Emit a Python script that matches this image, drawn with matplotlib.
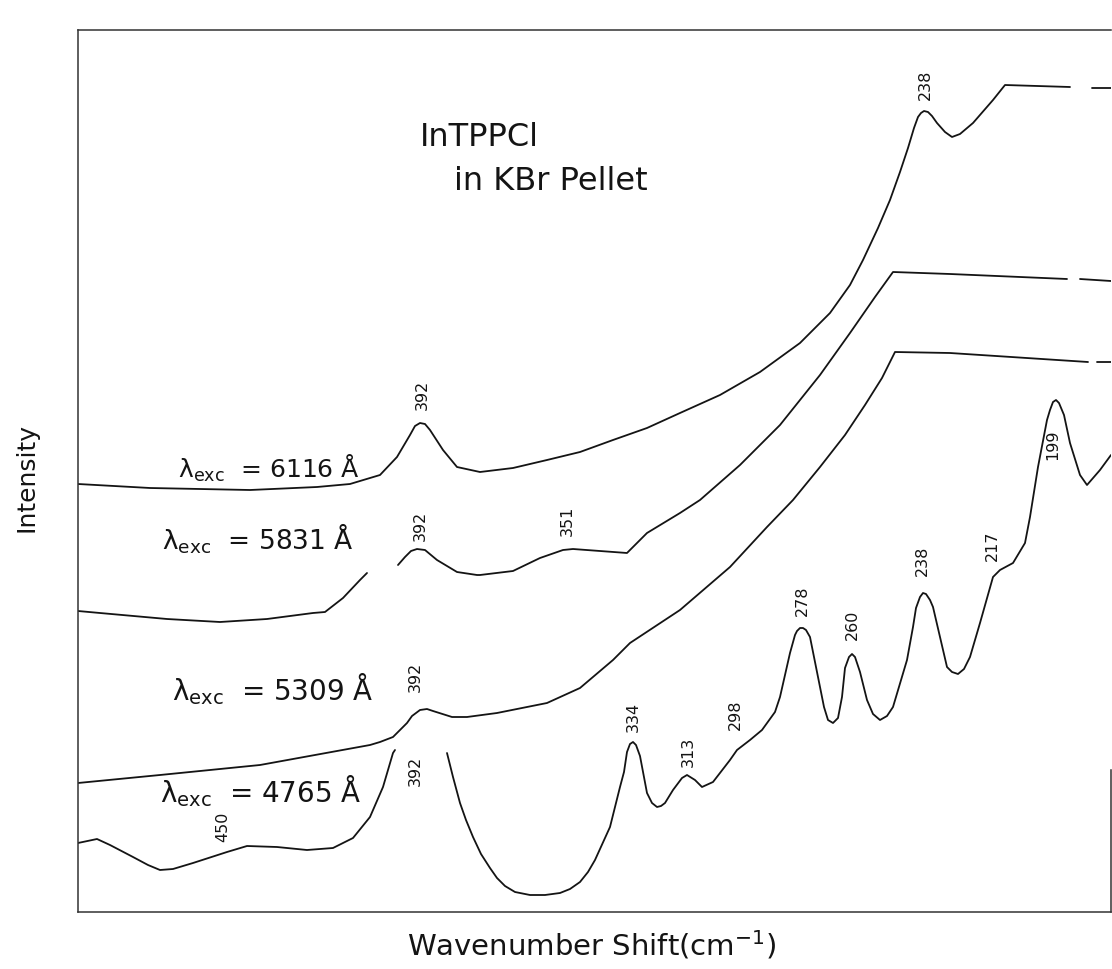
import numpy as np
import matplotlib
matplotlib.use("Agg")
import matplotlib.pyplot as plt

# Raman traces of InTPPCl in KBr.
# x = position along the recorder chart, y = intensity (arb. units); NaN = pen gap
nan = np.nan

exc6116 = np.array([
    [0, 428], [72, 424], [172, 422], [239, 425], [272, 428], [302, 437],
    [319, 455], [332, 477], [337, 486], [342, 489], [347, 488], [352, 482],
    [365, 462], [379, 445], [402, 440], [435, 444], [469, 452], [502, 460],
    [535, 472], [569, 484], [602, 499], [642, 517], [682, 540], [722, 569],
    [752, 599], [772, 627], [785, 652], [800, 684], [812, 712], [822, 740],
    [830, 764], [836, 784], [840, 795], [843, 799], [846, 801], [850, 800],
    [854, 796], [859, 789], [867, 780], [874, 775], [882, 778], [895, 789],
    [915, 812], [927, 827], [992, 825], [nan, nan], [1014, 824], [1033, 824]])

exc5831 = np.array([
    [0, 301], [22, 299], [89, 293], [142, 290], [189, 293], [235, 299],
    [247, 300], [265, 314], [282, 332], [289, 339], [nan, nan],
    [320, 347], [327, 355], [333, 361], [339, 363], [347, 362], [359, 352],
    [379, 340], [399, 337], [402, 337], [435, 341], [462, 354], [485, 362],
    [495, 363], [522, 361], [549, 359], [569, 379], [602, 399], [622, 412],
    [662, 447], [702, 487], [742, 537], [772, 579], [797, 615], [815, 640],
    [872, 638], [989, 633], [nan, nan], [1002, 633], [1033, 631]])

exc5309 = np.array([
    [0, 129], [82, 137], [182, 147], [292, 167], [302, 170], [315, 175],
    [329, 189], [334, 196], [342, 202], [349, 203], [355, 201], [374, 195],
    [389, 195], [419, 199], [469, 209], [502, 224], [535, 252], [552, 269],
    [602, 302], [652, 345], [689, 385], [715, 412], [742, 445], [767, 477],
    [787, 507], [804, 534], [817, 560], [872, 559], [1010, 550], [nan, nan],
    [1019, 550], [1033, 550]])

exc4765 = np.array([
    [0, 69], [19, 73], [32, 67], [55, 55], [70, 47], [82, 42], [95, 43],
    [115, 49], [149, 60], [169, 66], [199, 65], [229, 62], [255, 64],
    [275, 74], [292, 95], [305, 125], [315, 159], [317, 162], [nan, nan],
    [369, 159], [375, 135], [382, 109], [388, 92], [395, 75], [403, 58],
    [412, 44], [419, 34], [427, 26], [437, 20], [452, 17], [467, 17],
    [482, 19], [492, 23], [502, 30], [510, 40], [517, 52], [532, 85],
    [542, 125], [546, 140], [549, 160], [552, 168], [555, 170], [558, 167],
    [562, 156], [569, 119], [574, 109], [579, 105], [583, 106], [587, 109],
    [595, 122], [604, 134], [609, 137], [617, 132], [624, 125], [635, 130],
    [652, 152], [659, 162], [672, 172], [684, 182], [697, 200], [702, 215],
    [712, 259], [717, 277], [719, 281], [722, 284], [725, 284], [728, 282],
    [732, 275], [742, 225], [746, 205], [750, 192], [755, 189], [760, 194],
    [764, 215], [767, 244], [771, 255], [774, 258], [777, 255], [782, 240],
    [789, 212], [795, 198], [802, 192], [809, 196], [815, 205], [829, 252],
    [835, 285], [838, 304], [842, 315], [845, 319], [848, 318], [852, 312],
    [855, 305], [869, 245], [874, 240], [880, 238], [886, 243], [892, 255],
    [902, 289], [915, 335], [922, 342], [935, 349], [947, 369], [952, 395],
    [960, 445], [969, 492], [972, 502], [975, 510], [978, 512], [981, 509],
    [986, 497], [992, 469], [1002, 437], [1009, 427], [1022, 442], [1033, 457]])

# peak labels (cm-1) and where they sit on the chart
peak_names = ["392", "238",
              "392", "351",
              "392",
              "450", "392", "334", "313", "298", "278", "260", "238", "217", "199"]
peak_pos = [(344, 517), (847, 827),
            (342, 386), (489, 391),
            (337, 235),
            (145, 85), (337, 141), (555, 195), (610, 160), (657, 197),
            (724, 311), (774, 287), (844, 351), (914, 366), (975, 467)]

# excitation wavelengths (Angstrom) and label anchors
exc_lines = ["6116", "5831", "5309", "4765"]
exc_label_pos = [(100, 434, 18), (84, 362, 19), (94, 212, 20), (82, 110, 20)]

ink = "#141414"

fig = plt.figure(figsize=(11.12, 9.69), dpi=100)
ax = fig.add_axes([78 / 1112, 57 / 969, 1033 / 1112, 882 / 969])

for trace in (exc6116, exc5831, exc5309, exc4765):
    ax.plot(trace[:, 0], trace[:, 1], color=ink, lw=1.3,
            solid_capstyle="round", solid_joinstyle="round")

ax.set_xlim(0, 1033)
ax.set_ylim(0, 882)
ax.set_xticks([])
ax.set_yticks([])
for side in ("left", "top", "bottom", "right"):
    ax.spines[side].set_color("#333333")
    ax.spines[side].set_linewidth(1.1)
ax.spines["right"].set_bounds(0, 142)

for name, (px, py) in zip(peak_names, peak_pos):
    ax.text(px, py, name, rotation=90, ha="center", va="center",
            fontsize=11.5, color=ink)

for wl, (lx, ly, fs) in zip(exc_lines, exc_label_pos):
    ax.text(lx, ly, r"$\mathregular{\lambda_{exc}}$  = " + wl + " Å",
            ha="left", va="baseline", fontsize=fs, color=ink)

ax.text(401, 775, "InTPPCl", ha="center", va="center", fontsize=23, color=ink)
ax.text(473, 731, "in KBr Pellet", ha="center", va="center", fontsize=23, color=ink)

ax.set_ylabel("Intensity", fontsize=18, color=ink)
ax.yaxis.set_label_coords(-0.0387, 0.493)
ax.set_xlabel(r"Wavenumber Shift(cm$^{-1}$)", fontsize=21, color=ink)
ax.xaxis.set_label_coords(0.4976, -0.019)

fig.savefig("out.png", dpi=100)
